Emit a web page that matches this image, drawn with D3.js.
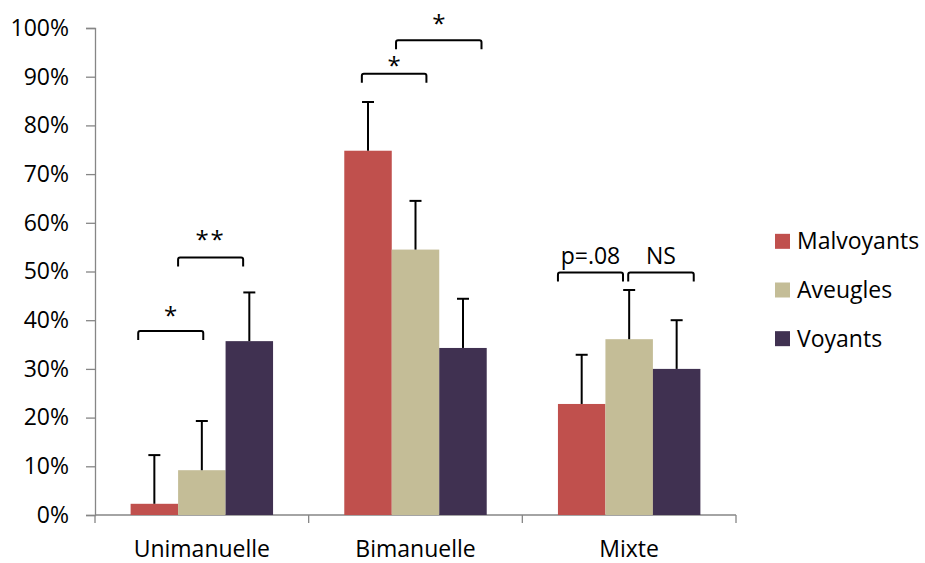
<!DOCTYPE html>
<html><head><meta charset="utf-8">
<script src="https://cdn.jsdelivr.net/npm/d3@7"></script>
<style>body{margin:0;background:#fff}svg{display:block}text{font-family:"Open Sans",sans-serif;fill:#000}</style>
</head><body>
<svg id="c" width="925" height="563"></svg>
<script>
const categories = ["Unimanuelle", "Bimanuelle", "Mixte"];
const seriesNames = ["Malvoyants", "Aveugles", "Voyants"];
const seriesColors = ["#C0504D", "#C4BD97", "#403151"];
const malvoyants = [2.3, 74.8, 22.8];
const aveugles   = [9.2, 54.5, 36.1];
const voyants    = [35.7, 34.3, 30.0];
const errMalvoyants = [10, 10, 10.1];
const errAveugles   = [10.1, 10, 10.1];
const errVoyants    = [10, 10.1, 10];
const yTicks = [0,10,20,30,40,50,60,70,80,90,100];
// significance brackets: category, start/end in bar-units from group start, level (%), label
const bracketCat   = ["Unimanuelle","Unimanuelle","Bimanuelle","Bimanuelle","Mixte","Mixte"];
const bracketFrom  = [0.16, 1.0, 0.37, 1.09, 0.0, 1.48];
const bracketTo    = [1.53, 2.37, 1.73, 2.89, 1.37, 2.86];
const bracketLevel = [37.8, 52.9, 90.6, 97.5, 49.8, 49.8];
const bracketLabel = ["*", "**", "*", "*", "p=.08", "NS"];
const labelLift    = [20, 22, 13, 21, 8, 8];

const values = [malvoyants, aveugles, voyants];
const errors = [errMalvoyants, errAveugles, errVoyants];

const svg = d3.select("#c");
const mLeft = 95, mRight = 736, mTop = 28, mBottom = 515;
const FS = 23;
const x0 = d3.scaleBand().domain(categories).range([mLeft, mRight]).paddingInner(0).paddingOuter(0);
const x1 = d3.scaleBand().domain(seriesNames).range([0, x0.bandwidth()]).paddingInner(0).paddingOuter(0.75);
const y = d3.scaleLinear().domain([0, 100]).range([mBottom, mTop]);
const step = x1.step();
const groupStart = c => x0(c) + x1(seriesNames[0]);

// y axis
const yAxis = d3.axisLeft(y).tickValues(yTicks).tickFormat(d => d + "%").tickSize(9).tickPadding(17);
const gy = svg.append("g").attr("transform", `translate(${mLeft},0)`).call(yAxis);
gy.select(".domain").attr("stroke", "#868686").attr("stroke-width", 1.3);
gy.selectAll(".tick line").attr("stroke", "#868686").attr("stroke-width", 1.3);
gy.selectAll(".tick text").attr("font-size", FS).attr("font-family", "Open Sans").attr("fill", "#000");

// x axis
const gx = svg.append("g");
gx.append("line").attr("x1", mLeft).attr("x2", mRight).attr("y1", mBottom).attr("y2", mBottom)
  .attr("stroke", "#868686").attr("stroke-width", 1.3);
const bounds = categories.map(c => x0(c)).concat([x0(categories[categories.length-1]) + x0.bandwidth()]);
gx.selectAll("line.t").data(bounds).join("line").attr("class","t")
  .attr("x1", d => d).attr("x2", d => d).attr("y1", mBottom).attr("y2", mBottom + 8)
  .attr("stroke", "#868686").attr("stroke-width", 1.3);
gx.selectAll("text").data(categories).join("text")
  .attr("x", d => x0(d) + x0.bandwidth()/2).attr("y", 557)
  .attr("text-anchor", "middle").attr("font-size", FS).text(d => d);

// bars
const flat = [];
seriesNames.forEach((s, si) => categories.forEach((c, ci) => flat.push({s, si, c, v: values[si][ci], e: errors[si][ci]})));
svg.append("g").selectAll("rect").data(flat).join("rect")
  .attr("x", d => x0(d.c) + x1(d.s)).attr("width", x1.bandwidth())
  .attr("y", d => y(d.v)).attr("height", d => y(0) - y(d.v))
  .attr("fill", d => seriesColors[d.si]);

// error bars
const eg = svg.append("g").attr("stroke", "#000").attr("stroke-width", 2);
eg.selectAll("line.v").data(flat).join("line").attr("class","v")
  .attr("x1", d => x0(d.c) + x1(d.s) + x1.bandwidth()/2).attr("x2", d => x0(d.c) + x1(d.s) + x1.bandwidth()/2)
  .attr("y1", d => y(d.v)).attr("y2", d => y(d.v + d.e));
eg.selectAll("line.h").data(flat).join("line").attr("class","h")
  .attr("x1", d => x0(d.c) + x1(d.s) + x1.bandwidth()/2 - 6).attr("x2", d => x0(d.c) + x1(d.s) + x1.bandwidth()/2 + 6)
  .attr("y1", d => y(d.v + d.e)).attr("y2", d => y(d.v + d.e));

// brackets
const br = bracketCat.map((c, i) => ({c, a: groupStart(c) + bracketFrom[i]*step, b: groupStart(c) + bracketTo[i]*step, yy: y(bracketLevel[i]), label: bracketLabel[i], lift: labelLift[i]}));
const bg = svg.append("g");
bg.selectAll("path").data(br).join("path")
  .attr("fill", "none").attr("stroke", "#000").attr("stroke-width", 2)
  .attr("d", d => `M${d.a},${d.yy+9}L${d.a},${d.yy+2}Q${d.a},${d.yy} ${d.a+2},${d.yy}L${d.b-2},${d.yy}Q${d.b},${d.yy} ${d.b},${d.yy+2}L${d.b},${d.yy+9}`);
bg.selectAll("text").data(br).join("text")
  .attr("x", d => (d.a + d.b)/2)
  .attr("y", d => d.label.startsWith("*") ? d.yy - d.lift + 13 : d.yy - d.lift)
  .attr("text-anchor", "middle").attr("font-size", d => d.label.startsWith("*") ? 24 : FS)
  .attr("letter-spacing", d => d.label === "**" ? 2 : 0)
  .text(d => d.label);

// legend
const lg = svg.append("g");
const legY = d3.scaleBand().domain(seriesNames).range([217, 363]);
lg.selectAll("rect").data(seriesNames).join("rect")
  .attr("x", 775).attr("width", 15).attr("height", 15)
  .attr("y", d => legY(d) + legY.bandwidth()/2 - 7.5)
  .attr("fill", (d, i) => seriesColors[i]);
lg.selectAll("text").data(seriesNames).join("text")
  .attr("x", 797).attr("y", d => legY(d) + legY.bandwidth()/2 + 8)
  .attr("font-size", FS).text(d => d);
</script>
</body></html>
